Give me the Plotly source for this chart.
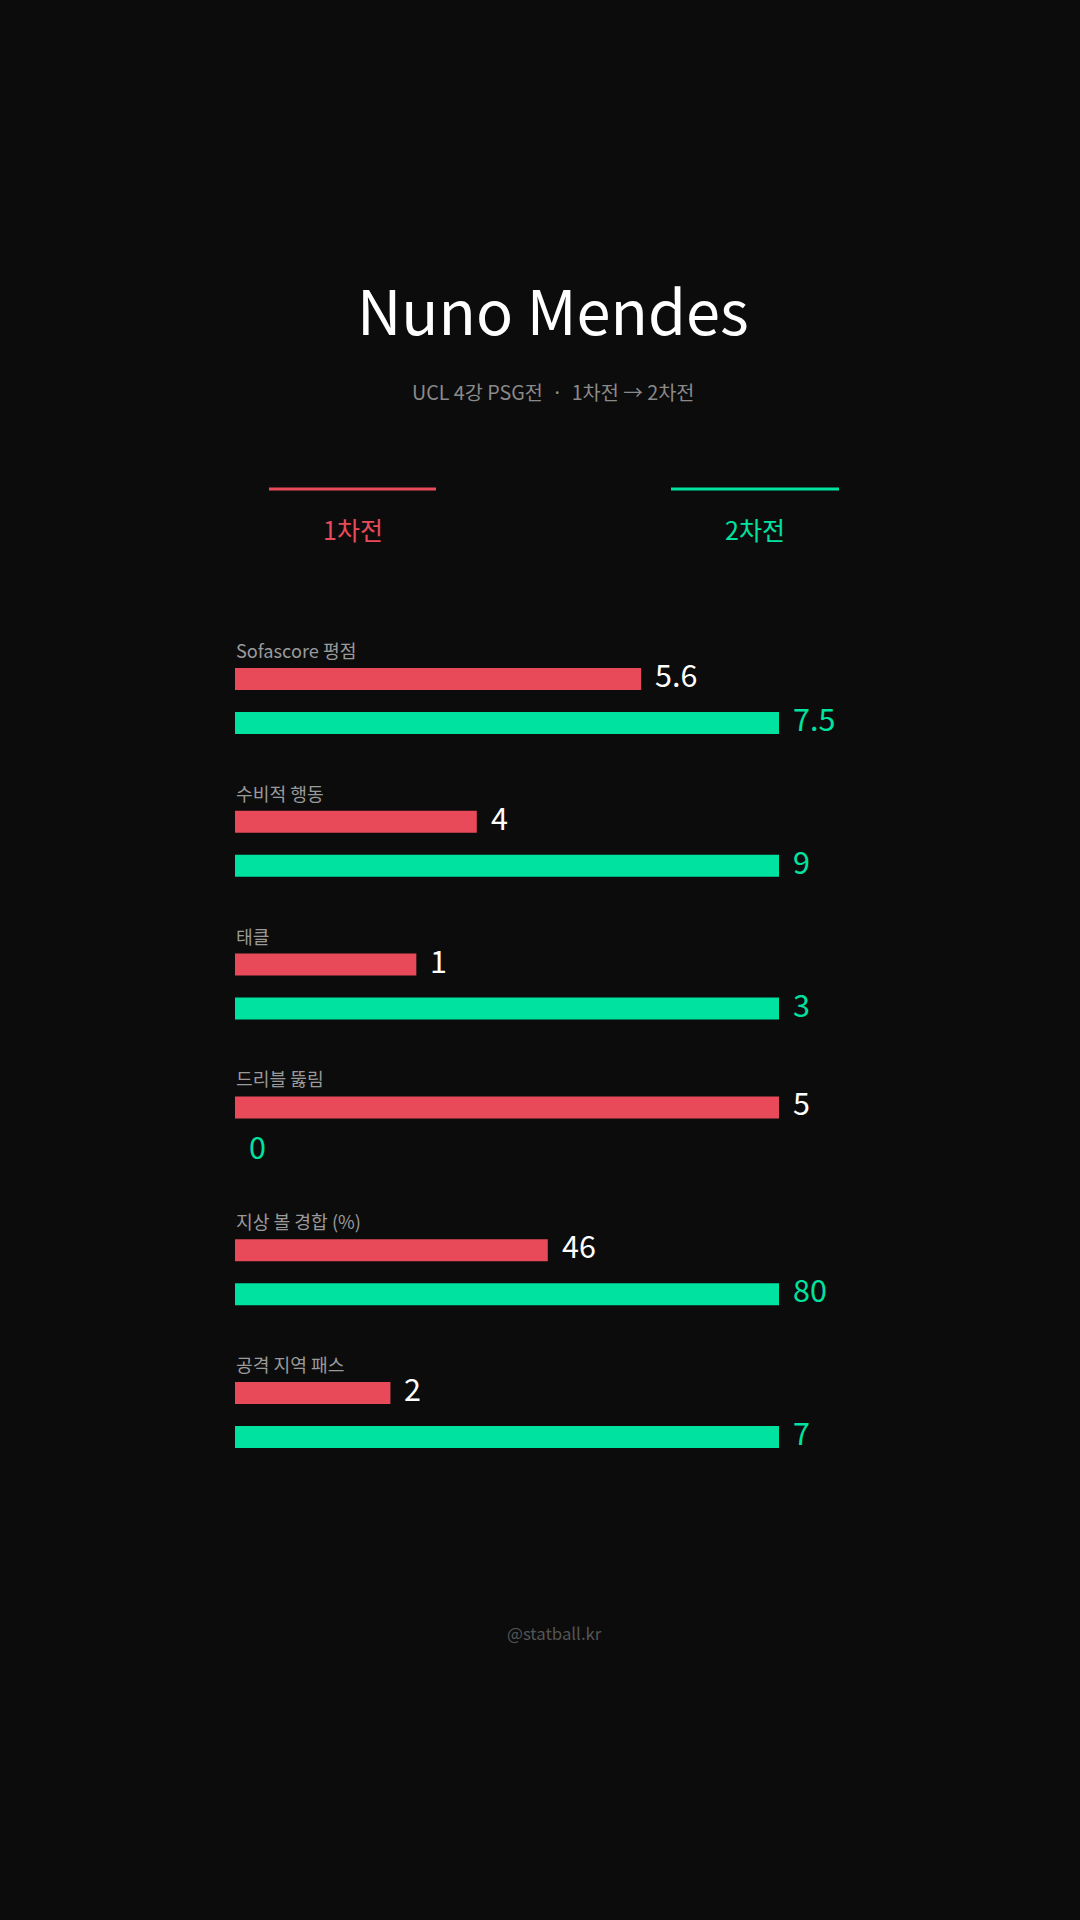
import plotly.graph_objects as go

# ---- data ----
categories = ["Sofascore 평점", "수비적 행동", "태클", "드리블 뚫림", "지상 볼 경합 (%)", "공격 지역 패스"]
series_names = ["1차전", "2차전"]
leg1_values = [5.6, 4, 1, 5, 46, 2]
leg2_values = [7.5, 9, 3, 0, 80, 7]

title_text = "Nuno Mendes"
subtitle_text = "UCL 4강 PSG전  ·  1차전 → 2차전"
footer_text = "@statball.kr"

# ---- style ----
W, H = 1080, 1920
BG = "#0c0c0c"
RED = "#E84A5A"
GREEN = "#00E3A0"
FONT = "Noto Sans CJK KR"

bar_x0, bar_x1 = 235, 779
label_y0, red_y0, green_y0, step = 650, 679, 723, 142.8
bar_h = 22


def px_x(x):
    return x / W


def px_y(y):
    return 1 - y / H


def fmt(v):
    return f"{v:g}"


fig = go.Figure()
annotations = []
shapes = []
layout_axes = {}

for k, cat in enumerate(categories):
    v1, v2 = leg1_values[k], leg2_values[k]
    sfx = "" if k == 0 else str(k + 1)
    xa, ya = "x" + sfx, "y" + sfx
    top = red_y0 + k * step - bar_h
    bot = green_y0 + k * step + bar_h
    vmax = max(v1, v2)
    layout_axes["xaxis" + sfx] = dict(
        domain=[px_x(bar_x0), px_x(bar_x1)], range=[0, vmax], anchor=ya,
        showgrid=False, zeroline=False, showticklabels=False, showline=False, fixedrange=True)
    layout_axes["yaxis" + sfx] = dict(
        domain=[px_y(bot), px_y(top)], type="category",
        categoryorder="array", categoryarray=[series_names[1], series_names[0]],
        range=[-0.5, 1.5], anchor=xa,
        showgrid=False, zeroline=False, showticklabels=False, showline=False, fixedrange=True)
    for name, v, col, tcol in [(series_names[0], v1, RED, "#ffffff"), (series_names[1], v2, GREEN, GREEN)]:
        fig.add_trace(go.Bar(
            x=[v], y=[name], orientation="h", xaxis=xa, yaxis=ya,
            marker=dict(color=col, line=dict(width=0)), width=0.5,
            showlegend=False, hoverinfo="skip"))
        annotations.append(dict(
            x=v, y=name, xref=xa, yref=ya, text=fmt(v), showarrow=False,
            xanchor="left", yanchor="middle", xshift=12, yshift=5,
            font=dict(family=FONT, size=30.5, color=tcol)))
    annotations.append(dict(
        x=px_x(bar_x0), y=px_y(label_y0 + k * step), xref="paper", yref="paper",
        text=cat, showarrow=False, xanchor="left", yanchor="middle", xshift=-1,
        font=dict(family=FONT, size=18.2, color="#9a9a9a")))

# title / subtitle / footer
annotations += [
    dict(x=px_x(553), y=px_y(309), xref="paper", yref="paper", text=title_text, showarrow=False,
         xanchor="center", yanchor="middle", font=dict(family=FONT, size=61.3, color="#ffffff")),
    dict(x=px_x(553), y=px_y(392), xref="paper", yref="paper", text=subtitle_text, showarrow=False,
         xanchor="center", yanchor="middle", font=dict(family=FONT, size=19.7, color="#8a8a8a")),
    dict(x=px_x(554), y=px_y(1633), xref="paper", yref="paper", text=footer_text, showarrow=False,
         xanchor="center", yanchor="middle", font=dict(family=FONT, size=16.8, color="#555555")),
]

# custom legend
for name, col, x0, x1 in [(series_names[0], RED, 269, 436), (series_names[1], GREEN, 671, 839)]:
    shapes.append(dict(type="line", xref="paper", yref="paper",
                       x0=px_x(x0), x1=px_x(x1), y0=px_y(489), y1=px_y(489),
                       line=dict(color=col, width=3)))
    annotations.append(dict(x=px_x((x0 + x1) / 2), y=px_y(528.5), xref="paper", yref="paper",
                            text=name, showarrow=False, xanchor="center", yanchor="middle",
                            font=dict(family=FONT, size=25, color=col)))

fig.update_layout(
    width=W, height=H, margin=dict(l=0, r=0, t=0, b=0),
    paper_bgcolor=BG, plot_bgcolor=BG, barmode="overlay",
    annotations=annotations, shapes=shapes, showlegend=False,
    font=dict(family=FONT),
    **layout_axes)

fig.write_html("out.html", config={"displayModeBar": False},
               post_script="document.body.style.margin='0';document.body.style.background='%s';" % BG)
